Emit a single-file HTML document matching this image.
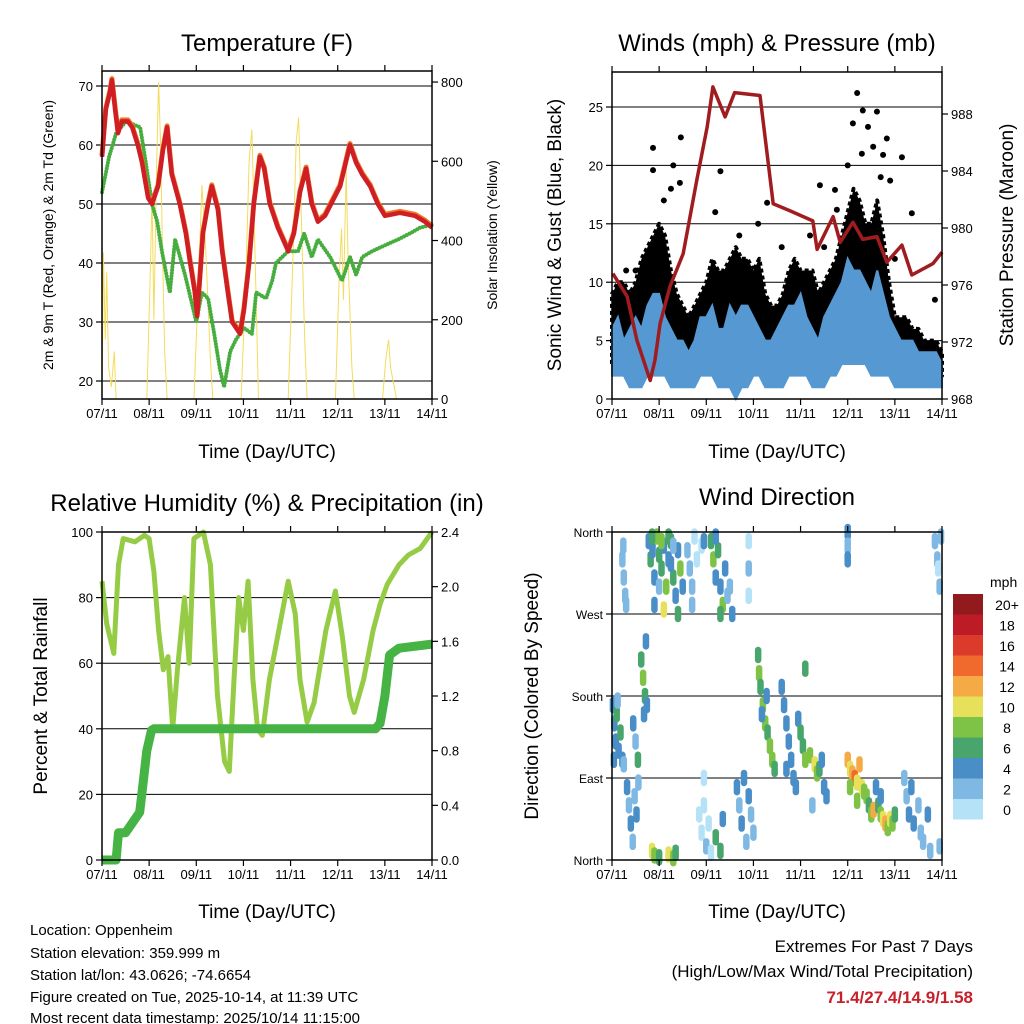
<!DOCTYPE html>
<html><head><meta charset="utf-8"><style>
html,body{margin:0;padding:0;background:#fff}
svg{display:block;font-family:"Liberation Sans",sans-serif}
</style></head><body>
<svg id="s" width="1024" height="1024" viewBox="0 0 1024 1024" xmlns="http://www.w3.org/2000/svg">
<g font-size="24" text-anchor="middle" fill="#000">
<text x="267" y="51">Temperature (F)</text>
<text x="777" y="51">Winds (mph) &amp; Pressure (mb)</text>
<text x="267" y="511">Relative Humidity (%) &amp; Precipitation (in)</text>
<text x="777" y="505">Wind Direction</text>
</g>
<g font-size="19" text-anchor="middle">
<text x="267" y="458">Time (Day/UTC)</text>
<text x="777" y="458">Time (Day/UTC)</text>
<text x="267" y="918">Time (Day/UTC)</text>
<text x="777" y="918">Time (Day/UTC)</text>
<text transform="translate(561,235) rotate(-90)">Sonic Wind &amp; Gust (Blue, Black)</text>
<text transform="translate(1013,235) rotate(-90)">Station Pressure (Maroon)</text>
<text transform="translate(47,696) rotate(-90)">Percent &amp; Total Rainfall</text>
<text transform="translate(538,696) rotate(-90)">Direction (Colored By Speed)</text>
</g>
<g font-size="14" text-anchor="middle">
<text transform="translate(53,235) rotate(-90)">2m &amp; 9m T (Red, Orange) &amp; 2m Td (Green)</text>
<text transform="translate(497,235) rotate(-90)">Solar Insolation (Yellow)</text>
</g>
<g font-size="15">
<text x="30" y="935">Location: Oppenheim</text>
<text x="30" y="958">Station elevation: 359.999 m</text>
<text x="30" y="980">Station lat/lon: 43.0626; -74.6654</text>
<text x="30" y="1002">Figure created on Tue, 2025-10-14, at 11:39 UTC</text>
<text x="30" y="1023">Most recent data timestamp: 2025/10/14 11:15:00</text>
</g>
<g font-size="17" text-anchor="end">
<text x="973" y="952">Extremes For Past 7 Days</text>
<text x="973" y="977">(High/Low/Max Wind/Total Precipitation)</text>
<text x="973" y="1003" fill="#c8202b" font-weight="bold">71.4/27.4/14.9/1.58</text>
</g>
</svg>
<script>
const xTickLabels=["07/11","08/11","09/11","10/11","11/11","12/11","13/11","14/11"];
const solarDay=[0,0.03,0.07,0.1,0.14,0.2,0.26,0.3,0.95,1.02,1.06,1.1,1.16,1.2,1.24,1.28,1.33,1.38,1.95,2.05,2.12,2.2,2.3,2.35,2.95,3.05,3.12,3.18,3.24,3.32,3.95,4.05,4.12,4.17,4.22,4.3,4.35,4.95,5.03,5.08,5.12,5.18,5.22,5.3,5.35,5.95,6.02,6.08,6.12,6.2,6.25,7];
const solarVal=[0,370,150,320,80,30,120,0,0,300,520,200,600,800,650,400,120,0,0,300,540,380,100,0,0,300,600,680,400,0,0,350,650,710,500,150,0,0,300,430,250,580,350,80,0,0,100,150,80,30,0,0];
const tDay=[0,.08,.17,.21,.28,.34,.42,.55,.64,.76,.85,.98,1.06,1.19,1.29,1.38,1.48,1.65,1.78,1.87,1.97,2.02,2.08,2.14,2.25,2.33,2.46,2.55,2.67,2.76,2.93,3.01,3.12,3.22,3.35,3.44,3.56,3.73,3.95,4.07,4.2,4.33,4.45,4.58,4.73,5.05,5.26,5.39,5.52,5.69,5.85,6.0,6.32,6.64,6.85,7];
const tRed=[58,66,69,71,66,62,64,64,63,60,57,51,50,53,59,63,55,50,45,40,35,31,38,45,50,53,49,42,35,30,28,32,40,50,58,56,50,46,42,45,52,56,50,47,48,53,60,57,55,53,50,48,48.5,48,47,46];
const tdDay=[0,.15,.30,.51,.81,.91,1.06,1.17,1.27,1.44,1.55,1.76,2.0,2.12,2.25,2.38,2.5,2.59,2.72,2.84,3.01,3.18,3.27,3.48,3.61,3.69,3.95,4.16,4.29,4.45,4.58,4.84,5.09,5.26,5.39,5.52,5.73,6.0,6.28,6.53,6.75,7];
const tdGreen=[52,58,62,64,63,58,50,47,42,35,44,38,30,35,34,28,22,19,25,27,29,28,35,34,37,40,42,42,45,41,44,41,37,41,38,41,42,43,44,45,46,46.5];
const gustHi=[9,10,10,9,10,12,13,14,15,14,11,9,8,7,8,9,10,12,11,11,12,13,12,12,11,12,9,8,8,9,11,12,11,11,11,9,10,11,12,14,16,18,17,15,15,17,14,10,7,7,7,6,6,5,5,5,4];
const gustLo=[3,4,3,3,3,3,4,5,5,4,3,3,2,2,2,3,4,4,3,3,4,4,4,4,4,4,3,3,3,3,4,5,5,4,3,3,3,4,5,6,7,7,6,6,5,6,5,4,3,3,3,3,2,2,2,2,2];
const gustPtDay=[.87,1.46,1.3,.87,2.3,2.19,3.29,4.41,4.73,5.2,5.32,5.62,5.54,5.43,5.83,6.15,6.36,6.85,4.77,5.11,1.44,5.75,5.9,1.1,1.25,3.1,3.6,4.2,4.5,5.0,5.3,5.7,6.0,0.3,0.5,2.7];
const gustPtVal=[21.5,22.4,20,19.6,19.5,16,16.8,18.3,17.9,26.2,24.7,24.6,21.6,23.3,22.3,20.7,15.9,8.5,16.2,23.6,18.5,20.9,18.7,17,18,15,13,14,13,20,21,19,12,11,11,14];
const windHi=[6,7,5,6,7,6,8,9,9,7,6,5,5,4,5,7,7,8,6,6,8,7,8,8,7,6,5,5,6,7,8,8,9,7,6,5,7,8,9,10,12,11,11,10,9,11,9,7,6,5,5,5,4,4,4,4,3];
const windLo=[2,2,2,1,1,1,2,2,2,2,1,1,1,1,1,2,2,2,1,1,1,0,1,1,2,2,1,1,1,1,2,2,2,2,1,1,1,2,2,3,3,3,3,3,2,2,2,2,1,1,1,1,1,1,1,1,1];
const presDay=[0.02,0.32,0.53,0.81,0.91,1.02,1.23,1.51,1.8,2.02,2.14,2.4,2.6,3.14,3.42,3.78,4.26,4.35,4.69,4.84,5.11,5.32,5.62,5.83,6.15,6.36,6.81,7];
const presVal=[976.8,975.2,972.1,969.3,970.7,973.3,975.9,978.2,983.4,987.1,989.9,987.8,989.5,989.3,981.7,981.2,980.5,978.5,980.8,979,980.4,979.2,979.4,977.6,978.8,976.7,977.5,978.3];
const rhDay=[0,.1,.25,.35,.45,.7,.9,1.0,1.1,1.2,1.3,1.4,1.5,1.6,1.75,1.85,1.95,2.15,2.3,2.45,2.6,2.7,2.8,2.9,3.0,3.1,3.2,3.3,3.4,3.55,3.75,3.95,4.1,4.2,4.35,4.5,4.75,4.95,5.1,5.25,5.35,5.55,5.75,5.9,6.05,6.3,6.5,6.75,7];
const rhVal=[85,72,63,90,98,97,99,98,88,70,58,62,40,58,80,60,98,100,90,50,30,27,55,80,70,85,55,40,38,55,70,85,75,55,42,48,70,82,68,50,45,55,70,78,84,90,93,95,100];
const rainDay=[0,0.3,0.35,0.5,0.8,0.85,0.95,1.05,1.1,5.8,5.9,6.0,6.1,6.3,7];
const rainVal=[0,0,0.2,0.2,0.35,0.5,0.8,0.95,0.96,0.96,1.0,1.2,1.5,1.55,1.58];
const dirDay=[0.02,0.05,0.08,0.1,0.14,0.18,0.22,0.25,0.04,0.12, 0.22,0.25,0.28,0.3,0.24, 0.32,0.36,0.4,0.44,0.48,0.52,0.56,0.45,0.5,0.55, 0.62,0.66,0.7,0.74,0.68,0.72,
0.78,0.82,0.86,0.9,0.95,1.0,1.05,1.1,1.15,1.2,1.25,1.3,1.35,1.4,1.45,1.5,0.9,1.0,1.1,1.2,1.3,1.4,0.85,1.05,1.25,
0.85,0.9,1.0,1.2,1.3,1.35, 1.6,1.65,1.7,1.75,1.8,1.9,1.95,1.7, 1.85,1.9,1.95,2.0,2.05,2.1,2.2,2.3,2.35,1.95,
2.1,2.15,2.2,2.25,2.3,2.35,2.4,2.45,2.5,2.55,2.2,2.3, 2.65,2.7,2.75,2.8,2.85,2.9,2.95,3.0,2.9,2.9,2.9,
3.1,3.12,3.15,3.2,3.25,3.3,3.35,3.4,3.45,3.18,3.28, 3.6,3.65,3.7,3.75,3.8,3.85,3.9,3.7,
3.95,4.0,4.05,4.1,4.2,4.3,4.35,4.4,4.5,4.55,4.45,4.25,4.1,
5.0,5.05,5.1,5.15,5.2,5.25,5.3,5.35,5.4,5.45,5.5,5.55,5.05,5.2,
5.65,5.7,5.75,5.8,5.85,5.9,5.95,6.0,5.7,5.6, 6.2,6.25,6.3,6.35,6.4,6.5,6.55,6.6,6.7,6.75,6.95,
6.85,6.9,6.95,6.98,6.92, 5.0,5.0,5.0];
const dirDeg=[170,150,130,160,120,140,110,105,110,175, 330,310,290,280,345, 80,60,40,20,70,50,85,150,130,110, 220,200,180,170,160,240,
350,330,340,310,355,335,320,345,300,330,350,310,290,340,320,300,280,300,275,355,345,270,355,350,325,
10,5,3,6,2,8, 340,320,300,355,330,345,350,280, 50,30,60,15,40,8,25,10,45,90,
350,330,310,340,300,280,320,290,300,270,355,270, 80,60,40,90,20,70,50,30,320,350,290,
225,205,190,170,150,140,125,110,100,160,180, 190,170,150,130,110,90,80,100,
155,140,125,110,115,105,95,100,80,70,110,60,210,
110,100,95,90,85,105,80,75,70,60,50,55,80,65,
60,50,45,40,35,45,40,50,70,80, 90,70,50,80,40,60,30,20,50,10,15,
350,330,300,355,320, 360,345,330];
const dirSpd=[4,5,4,6,4,6,4,3,5,3, 2,2,3,2,3, 4,3,4,3,2,4,3,4,3,6, 6,8,7,5,4,4,
4,6,5,4,8,7,6,4,8,4,6,7,4,5,8,4,4,3,10,7,3,6,6,8,5,
10,8,6,10,8,6, 2,3,2,0,1,0,4,3, 1,0,1,2,1,0,6,6,4,1,
6,8,4,7,4,8,4,3,2,4,4,6, 4,3,4,4,2,4,3,2,2,1,1,
6,8,6,8,8,6,8,8,6,4,4, 4,4,4,4,5,4,4,4,
4,6,6,8,8,10,8,6,4,4,4,2,6,
12,10,12,14,10,12,10,8,8,6,8,12,8,8,
6,8,10,12,8,10,8,6,4,4, 2,2,4,4,4,3,2,2,4,2,2,
2,2,2,2,0, 4,2,4];
const cbLabels=["20+","18","16","14","12","10","8","6","4","2","0"];
const cbColors=["#921a1d","#bd1c26","#dc3a2b","#ef6a2c","#f6aa45","#e6e05a","#7ec346","#48a56c","#4a8ec7","#7fb9e3","#b6e2f7"];

const NS="http://www.w3.org/2000/svg";
const S=document.getElementById('s');
function el(tag,attrs,parent){const e=document.createElementNS(NS,tag);for(const k in attrs)e.setAttribute(k,attrs[k]);(parent||S).appendChild(e);return e;}
function spdColor(v){let i=Math.min(10,Math.floor(v/2));return cbColors[10-i];}

function makePanel(x0,x1,y0,y1){
  return {x0,x1,y0,y1,xs:d=>x0+(x1-x0)*d/7};
}
function frame(p,name){
  const r=el('rect',{x:p.x0,y:p.y0,width:p.x1-p.x0,height:p.y1-p.y0,fill:'none',stroke:'#000','stroke-width':1.5});
  
  
  for(let i=0;i<xTickLabels.length;i++){
    const x=p.xs(i);
    el('line',{x1:x,x2:x,y1:p.y1,y2:p.y1+6,stroke:'#000','stroke-width':1.2});
    el('line',{x1:x,x2:x,y1:p.y0,y2:p.y0-6,stroke:'#000','stroke-width':1.2});
    const t=el('text',{x:x,y:p.y1+19,'font-size':13,'text-anchor':'middle'});
    t.textContent=xTickLabels[i];
    
    
  }
}
function yAxis(p,vals,fn,side,labels,grid,fs){
  vals.forEach((v,i)=>{
    const y=fn(v);
    if(grid) el('line',{x1:p.x0,x2:p.x1,y1:y,y2:y,stroke:'#000','stroke-width':1});
    const xa=side==='l'?p.x0:p.x1, dx=side==='l'?-6:6;
    el('line',{x1:xa,x2:xa+dx,y1:y,y2:y,stroke:'#000','stroke-width':1.2});
    const t=el('text',{x:side==='l'?xa-9:xa+9,y:y+5,'font-size':fs||13,'text-anchor':side==='l'?'end':'start'});
    t.textContent=labels?labels[i]:v;
    
    
  });
}
function pts(days,vals,xs,ys){return days.map((d,i)=>xs(d).toFixed(1)+','+ys(vals[i]).toFixed(1)).join(' ');}

// Panel 1 temperature
const P1=makePanel(102,432,71,399);
const tY=v=>381-(v-20)*5.9;
const sY=v=>399-v*0.3962;
yAxis(P1,[20,30,40,50,60,70],tY,'l',null,true);
yAxis(P1,[0,200,400,600,800],sY,'r',null,false);
const solar=el('polyline',{points:pts(solarDay,solarVal,P1.xs,sY),fill:'none',stroke:'#f3dc5c','stroke-width':1});


const td=el('polyline',{points:pts(tdDay,tdGreen,P1.xs,tY),fill:'none',stroke:'#47ad3f','stroke-width':4,'stroke-dasharray':'0 3','stroke-linecap':'round','stroke-linejoin':'round'});


const t9=el('polyline',{points:pts(tDay,tRed,P1.xs,tY),fill:'none',stroke:'#ef7a2a','stroke-width':5,'stroke-linejoin':'round',transform:'translate(0,-1.5)'});


const t2=el('polyline',{points:pts(tDay,tRed,P1.xs,tY),fill:'none',stroke:'#cf1f24','stroke-width':4.5,'stroke-linejoin':'round'});


frame(P1,'temperature');

// Panel 2 winds
const P2=makePanel(612,942,72,399);
const wY=v=>399-v*11.68;
const pY=v=>399-(v-968)*14.25;
yAxis(P2,[0,5,10,15,20,25],wY,'l',null,true);
yAxis(P2,[968,972,976,980,984,988],pY,'r',null,false);
const wd=gustHi.map((_,i)=>i/8);
function band(hi,lo){return wd.map((d,i)=>P2.xs(d).toFixed(1)+','+wY(hi[i]).toFixed(1)).concat(wd.slice().reverse().map((d,j)=>{const i=wd.length-1-j;return P2.xs(d).toFixed(1)+','+wY(lo[i]).toFixed(1);})).join(' ');}
const gust=el('polygon',{points:band(gustHi,gustLo),fill:'#000',stroke:'#000','stroke-width':4,'stroke-linejoin':'round','stroke-dasharray':'4 3'});


for(let i=0;i<gustPtDay.length;i++){
  const c=el('circle',{cx:P2.xs(gustPtDay[i]),cy:wY(gustPtVal[i]),r:3,fill:'#000'});
  
  
}
const wind=el('polygon',{points:band(windHi,windLo),fill:'#5598d2',stroke:'#5598d2','stroke-width':2});


const pres=el('polyline',{points:pts(presDay,presVal,P2.xs,pY),fill:'none',stroke:'#a01c1f','stroke-width':3.5,'stroke-linejoin':'round'});


frame(P2,'winds');

// Panel 3 RH
const P3=makePanel(102,432,532,860);
const hY=v=>860-v*3.28;
const rY=v=>860-v/2.4*328;
yAxis(P3,[0,20,40,60,80,100],hY,'l',null,false);
[20,40,60,80].forEach(v=>el('line',{x1:102,x2:432,y1:hY(v),y2:hY(v),stroke:'#000','stroke-width':1}));
yAxis(P3,[0,0.4,0.8,1.2,1.6,2.0,2.4],rY,'r',["0.0","0.4","0.8","1.2","1.6","2.0","2.4"],false);
const rh=el('polyline',{points:pts(rhDay,rhVal,P3.xs,hY),fill:'none',stroke:'#96cc45','stroke-width':5,'stroke-linejoin':'round'});


const rain=el('polyline',{points:pts(rainDay,rainVal,P3.xs,rY),fill:'none',stroke:'#45b444','stroke-width':9,'stroke-linejoin':'round'});


frame(P3,'humidity');

// Panel 4 wind direction
const P4=makePanel(612,942,532,860);
const dY=v=>860-v/360*328;
yAxis(P4,[0,90,180,270,360],dY,'l',["North","East","South","West","North"],false,12);
[90,180,270].forEach(v=>el('line',{x1:612,x2:942,y1:dY(v),y2:dY(v),stroke:'#000','stroke-width':1}));
for(let i=0;i<dirDay.length;i++){
  const y=dY(dirDeg[i]);
  const c=el('line',{x1:P4.xs(dirDay[i]),x2:P4.xs(dirDay[i]),y1:y-5,y2:y+5,stroke:spdColor(dirSpd[i]),'stroke-width':6.5,'stroke-linecap':'round'});
  
  
}
frame(P4,'wind-direction');
const mph=el('text',{x:990,y:587,'font-size':14});
mph.textContent='mph';


cbLabels.forEach((l,i)=>{
  const y=594+i*20.5;
  const r=el('rect',{x:953,y:y,width:30,height:20.5,fill:cbColors[i]});
  
  
  const t=el('text',{x:1007,y:y+16,'font-size':14,'text-anchor':'middle'});
  t.textContent=l;
  
  
});
</script>
</body></html>
